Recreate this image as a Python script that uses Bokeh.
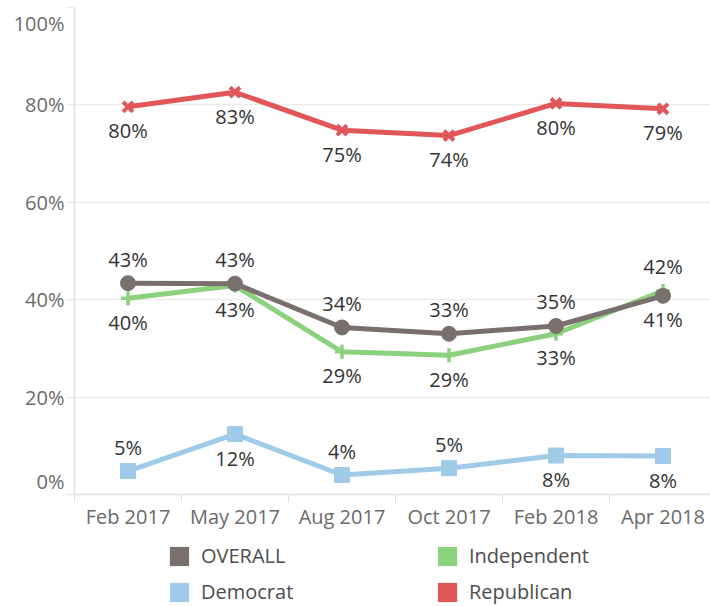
from bokeh.plotting import figure
from bokeh.layouts import column
from bokeh.models import (Range1d, FixedTicker, Legend, LegendItem, LinearAxis,
                          ColumnDataSource)
from bokeh.core.properties import value
from bokeh.embed import file_html
from bokeh.resources import INLINE

# ---- data ----
months = ["Feb 2017", "May 2017", "Aug 2017", "Oct 2017", "Feb 2018", "Apr 2018"]
overall = [0.434, 0.433, 0.343, 0.330, 0.346, 0.408]
independent = [0.403, 0.429, 0.293, 0.286, 0.330, 0.418]
democrat = [0.048, 0.124, 0.040, 0.054, 0.080, 0.079]
republican = [0.796, 0.826, 0.748, 0.737, 0.803, 0.792]
y_ticks = [0.0, 0.2, 0.4, 0.6, 0.8, 1.0]

# label placement per point: 1 = above marker, -1 = below marker
overall_side = [1, 1, 1, 1, 1, -1]
independent_side = [-1, -1, -1, -1, -1, 1]
democrat_side = [1, -1, 1, 1, -1, -1]
republican_side = [-1, -1, -1, -1, -1, -1]

FONT = "Open Sans"
C_OVERALL = "#79706E"
C_IND = "#8CD17D"
C_DEM = "#A0CBE8"
C_REP = "#E15759"
GRID = "#ebebeb"
AXIS = "#e0e0e0"
TICK_TXT = "#6b6b6b"

FRAME_W, FRAME_H = 636, 487
xs = list(range(len(months)))

p = figure(frame_width=FRAME_W, frame_height=FRAME_H,
           min_border_left=74, min_border_right=0, min_border_top=7,
           min_border_bottom=40,
           x_range=Range1d(-0.5, len(months) - 1 + 0.444),
           y_range=Range1d(0, 1),
           output_backend="svg", toolbar_location=None)
p.outline_line_color = None
p.background_fill_color = "white"

# grid
p.xgrid.visible = False
p.ygrid.ticker = FixedTicker(ticks=y_ticks)
p.ygrid.grid_line_color = GRID
p.ygrid.grid_line_width = 1.5

# x axis
p.xaxis.ticker = FixedTicker(ticks=xs, minor_ticks=[i - 0.5 for i in range(len(months) + 1)])
p.xaxis.major_label_overrides = {i: m for i, m in enumerate(months)}
p.xaxis.axis_line_color = AXIS
p.xaxis.axis_line_width = 1.5
p.xaxis.major_tick_line_color = None
p.xaxis.major_tick_out = 0
p.xaxis.major_tick_in = 0
p.xaxis.minor_tick_line_color = AXIS
p.xaxis.minor_tick_out = 8
p.xaxis.minor_tick_in = 0
p.xaxis.major_label_standoff = 0
p.xaxis.major_label_text_font = FONT
p.xaxis.major_label_text_font_size = "20px"
p.xaxis.major_label_text_color = TICK_TXT

# inner y axis: line + tick marks only
p.yaxis.ticker = FixedTicker(ticks=y_ticks)
p.yaxis.major_label_overrides = {t: "" for t in y_ticks}
p.yaxis.major_label_standoff = 0
p.yaxis.major_label_text_font_size = "1px"
p.yaxis.axis_line_color = AXIS
p.yaxis.axis_line_width = 1.5
p.yaxis.major_tick_line_color = GRID
p.yaxis.major_tick_line_width = 1.5
p.yaxis.major_tick_out = 8
p.yaxis.major_tick_in = 0
p.yaxis.minor_tick_line_color = None

# outer y axis: the tick labels, end labels nudged inside the plot area
top_nudge, bottom_nudge = 16 / FRAME_H, 13 / FRAME_H
label_pos = []
for t in y_ticks:
    if t == max(y_ticks):
        label_pos.append(t - top_nudge)
    elif t == min(y_ticks):
        label_pos.append(t + bottom_nudge)
    else:
        label_pos.append(t)
ylab = LinearAxis(ticker=FixedTicker(ticks=label_pos),
                  major_label_overrides={lp: f"{round(t * 100)}%" for lp, t in zip(label_pos, y_ticks)},
                  axis_line_color=None, major_tick_line_color=None,
                  minor_tick_line_color=None, major_tick_out=0, major_tick_in=0,
                  major_label_standoff=2, major_label_text_font=FONT,
                  major_label_text_font_size="20px", major_label_text_color=TICK_TXT)
p.add_layout(ylab, "left")

series = [
    ("Democrat", democrat, democrat_side, C_DEM, "square"),
    ("Republican", republican, republican_side, C_REP, "x"),
    ("Independent", independent, independent_side, C_IND, "cross"),
    ("OVERALL", overall, overall_side, C_OVERALL, "circle"),
]

# ---- legend in its own strip below the chart ----
lg = figure(width=710, height=72, min_border=0, x_axis_type=None, y_axis_type=None,
            output_backend="svg", toolbar_location=None)
lg.outline_line_color = None
lg.grid.visible = False

swatches = {}
for name, vals, side, color, marker in series:
    src = ColumnDataSource(dict(x=xs, y=vals,
                                txt=[f"{round(v * 100)}%" for v in vals],
                                off=[-s * 24 for s in side]))
    p.line("x", "y", source=src, line_color=color, line_width=5)
    if marker in ("x", "cross"):
        p.scatter("x", "y", source=src, marker=marker, size=14,
                  line_color=color, line_width=4 if marker == "x" else 3.5)
    else:
        p.scatter("x", "y", source=src, marker=marker, size=15,
                  fill_color=color, line_color=color)
    p.text("x", "y", text="txt", source=src, y_offset="off",
           text_align="center", text_baseline="middle",
           text_font=value(FONT), text_font_size="20px", text_color="#333333")
    # zero-area proxy (invisible) so the legend draws a filled colour square
    swatches[name] = lg.quad(left="x", right="x", top="y", bottom="y", source=src,
                             fill_color=color, line_color=None)

legend_order = ["OVERALL", "Independent", "Democrat", "Republican"]
legend = Legend(items=[LegendItem(label=n, renderers=[swatches[n]]) for n in legend_order],
                location=(93, 1), orientation="horizontal", ncols=2,
                glyph_width=24, glyph_height=24, label_height=24, label_width=225,
                spacing=9, padding=0, margin=0, label_standoff=10,
                border_line_color=None, background_fill_alpha=0,
                label_text_font=FONT, label_text_font_size="20px",
                label_text_color="#4d4d4d")
lg.add_layout(legend)

layout = column(p, lg, spacing=0)
open("out.html", "w").write(file_html(layout, INLINE))
